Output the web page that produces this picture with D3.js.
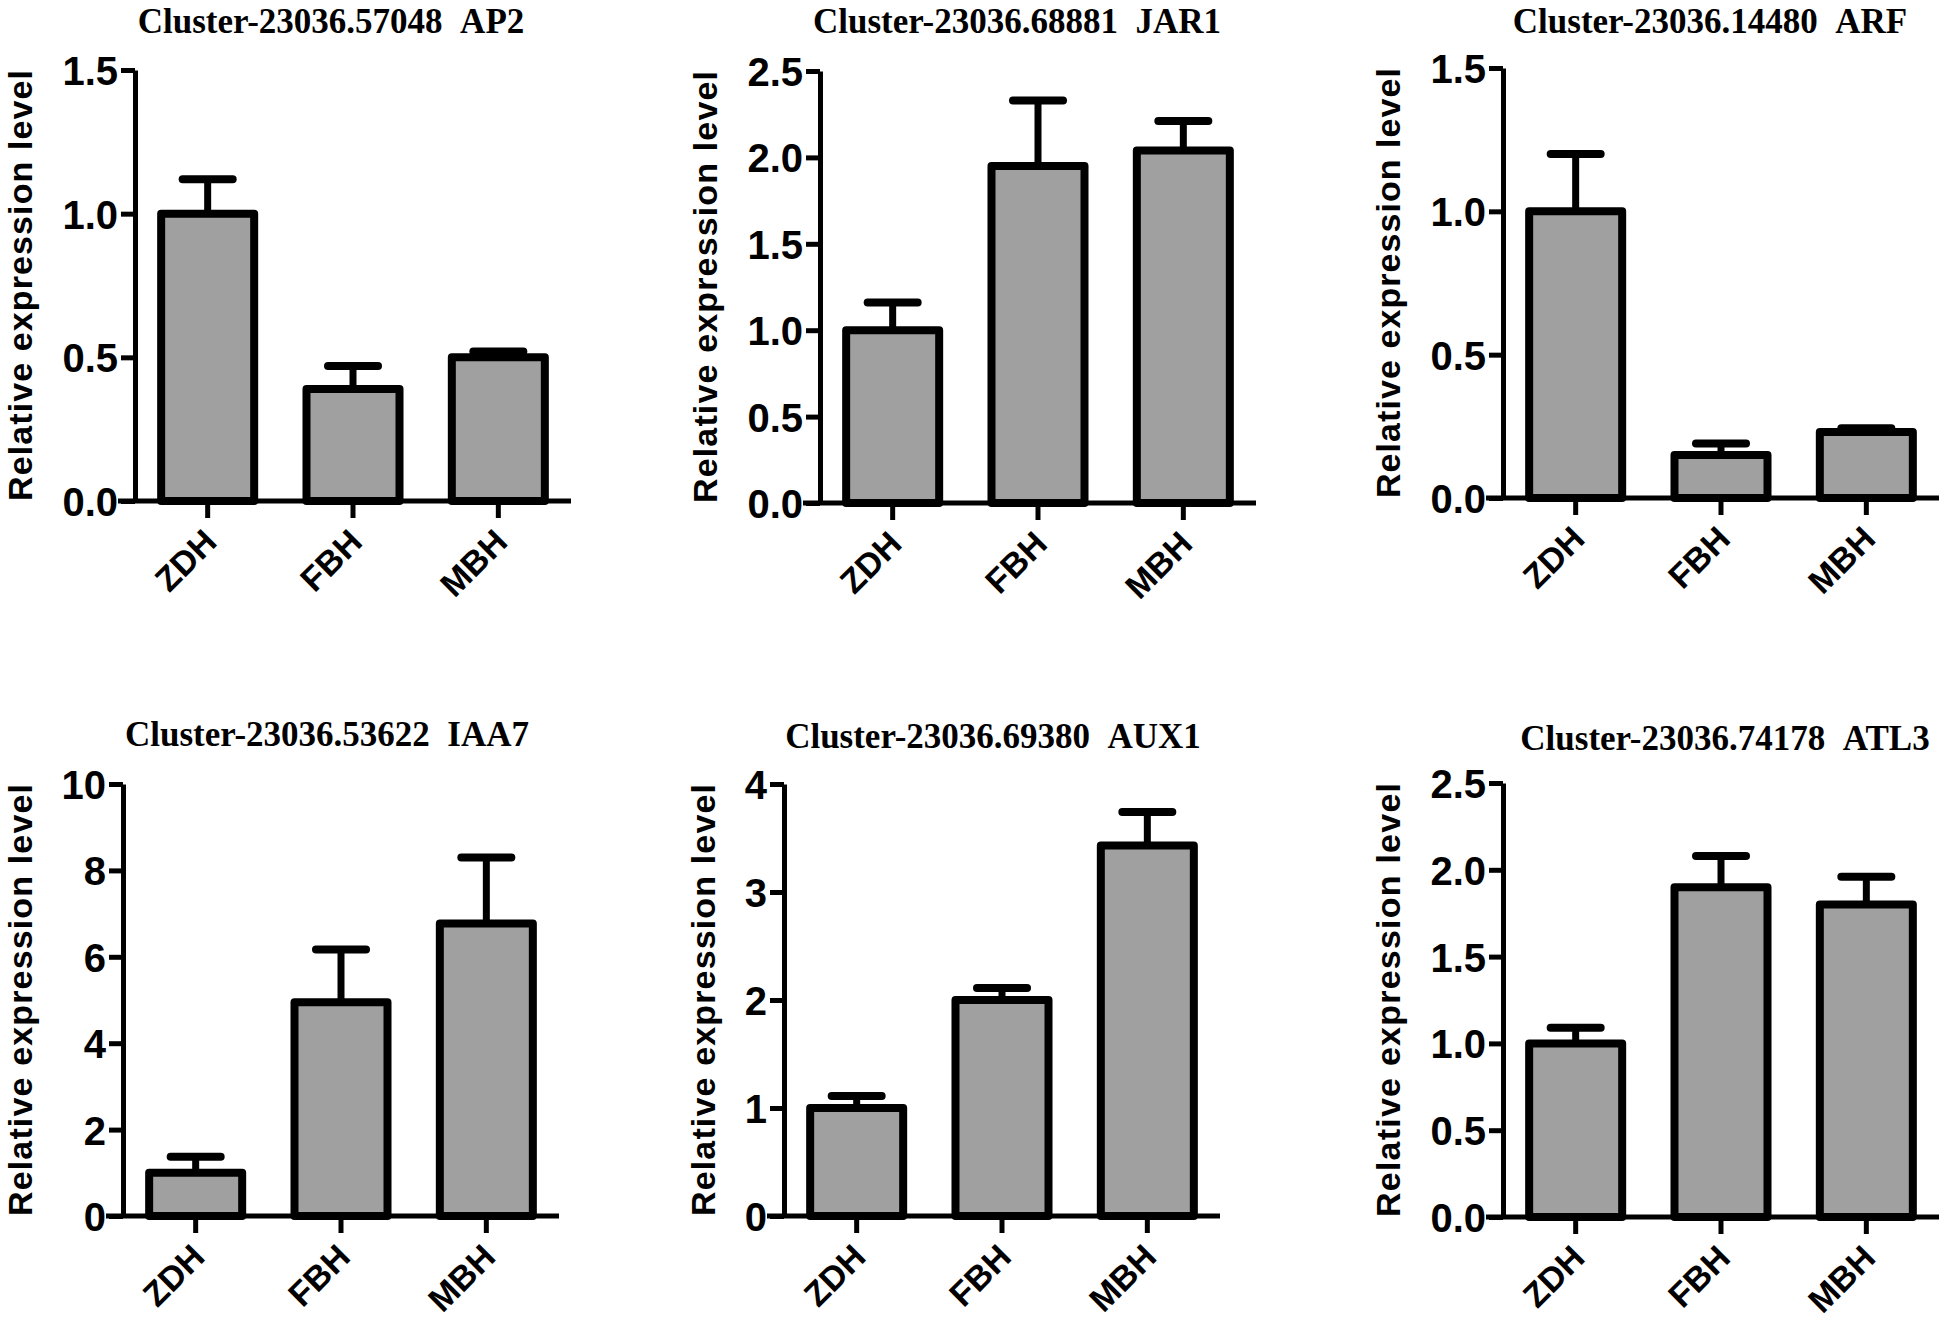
<!DOCTYPE html>
<html>
  <head>
    <title>Relative expression bar charts</title>
    <style>
    body {
        margin: 0px;
        overflow: hidden;
        background: white;
    }

    .tick text {
        font-family: "Liberation Sans", Arial, sans-serif;
        font-weight: bold;
        fill: black;
    }

    .title {
        font-family: "Liberation Serif", "Times New Roman", serif;
        font-weight: bold;
        font-size: 35px;
    }

    .axis-label {
        font-family: "Liberation Sans", Arial, sans-serif;
        font-weight: bold;
        font-size: 34px;
    }
    </style>
    <script src="https://d3js.org/d3.v7.min.js"></script>
  </head>
  <body>

    <svg width="1946" height="1321"></svg>

    <script>
        // data
        const groups = ['ZDH', 'FBH', 'MBH'];

        const titles = [
            'Cluster-23036.57048\u00a0\u00a0AP2',
            'Cluster-23036.68881\u00a0\u00a0JAR1',
            'Cluster-23036.14480\u00a0\u00a0ARF',
            'Cluster-23036.53622\u00a0\u00a0IAA7',
            'Cluster-23036.69380\u00a0\u00a0AUX1',
            'Cluster-23036.74178\u00a0\u00a0ATL3'
        ];

        const means = [
            [1.00, 0.39, 0.50],
            [1.00, 1.95, 2.04],
            [1.00, 0.15, 0.23],
            [1.00, 4.95, 6.77],
            [1.00, 2.00, 3.43],
            [1.00, 1.90, 1.80]
        ];

        // upper error bar length (SD)
        const errors = [
            [0.12, 0.08, 0.02],
            [0.16, 0.38, 0.17],
            [0.20, 0.04, 0.013],
            [0.37, 1.22, 1.53],
            [0.11, 0.11, 0.31],
            [0.09, 0.18, 0.16]
        ];

        const yMax = [1.5, 2.5, 1.5, 10, 4, 2.5];
        const yStep = [0.5, 0.5, 0.5, 2, 1, 0.5];

        const yAxisLabel = 'Relative expression level';

        // panel placement (pixels)
        const panels = [
            {x: 135,  top: 70,  bottom: 501,  titleX: 331,  titleY: 33},
            {x: 820,  top: 71,  bottom: 503,  titleX: 1017, titleY: 33},
            {x: 1503, top: 68,  bottom: 498,  titleX: 1710, titleY: 33},
            {x: 123,  top: 784, bottom: 1216, titleX: 327,  titleY: 746},
            {x: 784,  top: 784, bottom: 1216, titleX: 993,  titleY: 748},
            {x: 1503, top: 783, bottom: 1217, titleX: 1725, titleY: 750}
        ];

        const svg = d3.select('svg');
        svg.append('rect')
            .attr('width', 1946).attr('height', 1321)
            .attr('fill', 'white');

        const plotWidth = 436;
        const yTickLen = 14;
        const xTickLen = 17;
        const barStroke = 8;
        const axisStroke = 5;

        const render = (i) => {
            const p = panels[i];
            const innerHeight = p.bottom - p.top;

            const xScale = d3.scaleBand()
                .domain(groups)
                .range([0, plotWidth])
                .paddingInner(0.36)
                .paddingOuter(0.18);

            const yScale = d3.scaleLinear()
                .domain([0, yMax[i]])
                .range([innerHeight, 0]);

            const g = svg.append('g')
                .attr('transform', `translate(${p.x},${p.top})`);

            // title
            svg.append('text')
                .attr('class', 'title')
                .attr('x', p.titleX)
                .attr('y', p.titleY)
                .attr('text-anchor', 'middle')
                .text(titles[i]);

            // y axis
            const ticks = d3.range(0, yMax[i] + yStep[i] / 2, yStep[i]);
            const fmt = yStep[i] < 1 ? d3.format('.1f') : d3.format('d');
            const yAxis = d3.axisLeft(yScale)
                .tickValues(ticks)
                .tickFormat(fmt)
                .tickSize(yTickLen)
                .tickSizeOuter(0)
                .tickPadding(3);

            const yAxisG = g.append('g').call(yAxis);
            yAxisG.select('.domain')
                .attr('stroke', 'black')
                .attr('stroke-width', axisStroke);
            yAxisG.selectAll('.tick line')
                .attr('stroke', 'black')
                .attr('stroke-width', axisStroke);
            yAxisG.selectAll('.tick text')
                .attr('font-size', '40px')
                .attr('dy', '0.36em');

            // bars
            g.selectAll('rect.bar').data(groups)
                .enter().append('rect')
                .attr('class', 'bar')
                .attr('x', d => xScale(d))
                .attr('width', xScale.bandwidth())
                .attr('y', (d, j) => yScale(means[i][j]))
                .attr('height', (d, j) => yScale(0) - yScale(means[i][j]))
                .attr('fill', '#a0a0a0')
                .attr('stroke', 'black')
                .attr('stroke-width', barStroke)
                .attr('stroke-linejoin', 'round');

            // error bars (upper only)
            const cx = d => xScale(d) + xScale.bandwidth() / 2;
            g.selectAll('line.err').data(groups)
                .enter().append('line')
                .attr('class', 'err')
                .attr('x1', cx).attr('x2', cx)
                .attr('y1', (d, j) => yScale(means[i][j]))
                .attr('y2', (d, j) => yScale(means[i][j] + errors[i][j]))
                .attr('stroke', 'black')
                .attr('stroke-width', 7);

            g.selectAll('line.cap').data(groups)
                .enter().append('line')
                .attr('class', 'cap')
                .attr('x1', d => cx(d) - 25).attr('x2', d => cx(d) + 25)
                .attr('y1', (d, j) => yScale(means[i][j] + errors[i][j]))
                .attr('y2', (d, j) => yScale(means[i][j] + errors[i][j]))
                .attr('stroke', 'black')
                .attr('stroke-width', 8)
                .attr('stroke-linecap', 'round');

            // x axis
            const xAxis = d3.axisBottom(xScale)
                .tickSize(xTickLen)
                .tickSizeOuter(0)
                .tickFormat('');
            const xAxisG = g.append('g').call(xAxis)
                .attr('transform', `translate(0,${innerHeight})`);
            xAxisG.select('.domain').remove();
            xAxisG.selectAll('.tick line')
                .attr('stroke', 'black')
                .attr('stroke-width', axisStroke);

            xAxisG.append('line')
                .attr('x1', -xTickLen)
                .attr('x2', plotWidth)
                .attr('stroke', 'black')
                .attr('stroke-width', axisStroke);

            xAxisG.selectAll('text.xlab').data(groups)
                .enter().append('text')
                .attr('class', 'xlab')
                .attr('transform', d => `translate(${cx(d) + 11},${43}) rotate(-45)`)
                .attr('text-anchor', 'end')
                .attr('font-family', '"Liberation Sans", Arial, sans-serif')
                .attr('font-weight', 'bold')
                .attr('font-size', '34px')
                .attr('fill', 'black')
                .text(d => d);

            // y axis label, placed left of the tick labels
            const box = yAxisG.node().getBBox();
            g.append('text')
                .attr('class', 'axis-label')
                .attr('transform', `translate(${box.x - 30},${innerHeight / 2}) rotate(-90)`)
                .attr('text-anchor', 'middle')
                .attr('textLength', innerHeight)
                .attr('lengthAdjust', 'spacing')
                .attr('fill', 'black')
                .text(yAxisLabel);
        };

        panels.forEach((p, i) => render(i));
    </script>
  </body>
</html>
